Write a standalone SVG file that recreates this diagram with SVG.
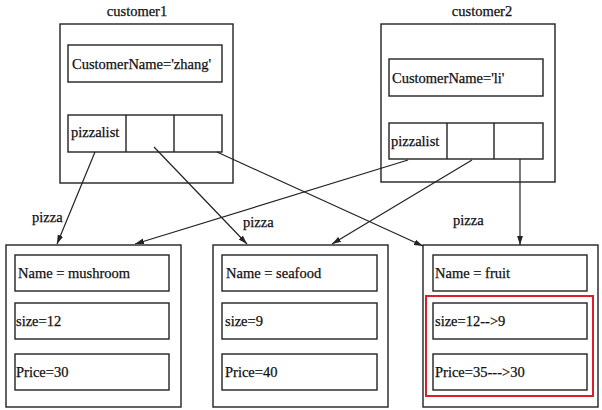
<svg xmlns="http://www.w3.org/2000/svg" width="602" height="410" viewBox="0 0 602 410">
<style>
.box{fill:none;stroke:#222;stroke-width:1.4}
.t{font-family:"Liberation Serif","Times New Roman",serif;font-size:14.5px;fill:#111;stroke:#111;stroke-width:0.25}
.c{stroke:#222;stroke-width:1.2;fill:none}
</style>
<defs>
<marker id="ah" viewBox="0 0 10 10" refX="10" refY="5" markerWidth="9" markerHeight="9" markerUnits="userSpaceOnUse" orient="auto">
<path d="M0,1.8 L10,5 L0,8.2 Z" fill="#222"/>
</marker>
</defs>
<rect width="602" height="410" fill="#fff"/>
<g id="customer1">
<text class="t" x="137" y="16" text-anchor="middle">customer1</text>
<rect class="box" x="60" y="24" width="173" height="159"/>
<rect class="box" x="68" y="45" width="154" height="37"/>
<text class="t" x="72" y="69">CustomerName='zhang'</text>
<rect class="box" x="68" y="115" width="154" height="37"/>
<line class="box" x1="126" y1="115" x2="126" y2="152"/>
<line class="box" x1="174" y1="115" x2="174" y2="152"/>
<text class="t" x="71" y="137">pizzalist</text>
</g>
<g id="customer2">
<text class="t" x="482" y="16" text-anchor="middle">customer2</text>
<rect class="box" x="381" y="24" width="174" height="158"/>
<rect class="box" x="389" y="59" width="154" height="37"/>
<text class="t" x="392" y="83">CustomerName='li'</text>
<rect class="box" x="389" y="123" width="154" height="36"/>
<line class="box" x1="447" y1="123" x2="447" y2="159"/>
<line class="box" x1="494" y1="123" x2="494" y2="159"/>
<text class="t" x="391" y="146">pizzalist</text>
</g>
<g id="pizza1">
<rect class="box" x="6" y="245" width="175" height="162"/>
<rect class="box" x="15" y="255" width="154" height="36"/>
<text class="t" x="18" y="278">Name = mushroom</text>
<rect class="box" x="15" y="303" width="154" height="36"/>
<text class="t" x="16" y="326">size=12</text>
<rect class="box" x="15" y="354" width="154" height="36"/>
<text class="t" x="16" y="377">Price=30</text>
</g>
<g id="pizza2">
<rect class="box" x="213" y="245" width="175" height="162"/>
<rect class="box" x="222" y="255" width="155" height="36"/>
<text class="t" x="226" y="278">Name = seafood</text>
<rect class="box" x="222" y="303" width="155" height="36"/>
<text class="t" x="225" y="326">size=9</text>
<rect class="box" x="222" y="354" width="155" height="36"/>
<text class="t" x="225" y="377">Price=40</text>
</g>
<g id="pizza3">
<rect class="box" x="423" y="245" width="175" height="162"/>
<rect class="box" x="433" y="255" width="154" height="36"/>
<text class="t" x="435" y="278">Name = fruit</text>
<rect class="box" x="433" y="303" width="154" height="36"/>
<text class="t" x="435" y="326">size=12--&gt;9</text>
<rect class="box" x="433" y="354" width="154" height="36"/>
<text class="t" x="435" y="377">Price=35---&gt;30</text>
<rect x="426" y="296" width="167" height="100" fill="none" stroke="#d8202a" stroke-width="2"/>
</g>
<g id="connectors">
<line class="c" x1="95" y1="152" x2="57" y2="244" marker-end="url(#ah)"/>
<line class="c" x1="154" y1="147" x2="247" y2="244" marker-end="url(#ah)"/>
<line class="c" x1="217" y1="152" x2="423" y2="246" marker-end="url(#ah)"/>
<line class="c" x1="408" y1="160" x2="135" y2="244" marker-end="url(#ah)"/>
<line class="c" x1="472" y1="160" x2="332" y2="244" marker-end="url(#ah)"/>
<line class="c" x1="520" y1="159" x2="520" y2="245" marker-end="url(#ah)"/>
<text class="t" x="32" y="222">pizza</text>
<text class="t" x="243" y="227">pizza</text>
<text class="t" x="453" y="225">pizza</text>
</g>
</svg>
